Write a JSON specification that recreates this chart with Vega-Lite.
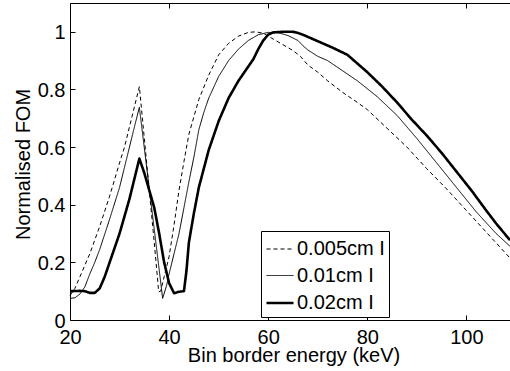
{
  "$schema": "https://vega.github.io/schema/vega-lite/v6.json",
  "width": 440,
  "height": 317,
  "autosize": {"type": "none"},
  "padding": {"left": 70, "top": 3, "right": 0, "bottom": 51},
  "background": "white",
  "config": {"view": {"stroke": null}, "font": "Liberation Sans"},
  "datasets": {
    "fom": [
      {"s": "0.005cm I", "x": 20, "y": 0.085}, {"s": "0.005cm I", "x": 21, "y": 0.11}, {"s": "0.005cm I", "x": 22, "y": 0.15},
      {"s": "0.005cm I", "x": 24, "y": 0.23}, {"s": "0.005cm I", "x": 26, "y": 0.325}, {"s": "0.005cm I", "x": 28, "y": 0.43},
      {"s": "0.005cm I", "x": 30, "y": 0.545}, {"s": "0.005cm I", "x": 31, "y": 0.6}, {"s": "0.005cm I", "x": 32, "y": 0.67},
      {"s": "0.005cm I", "x": 33, "y": 0.74}, {"s": "0.005cm I", "x": 34, "y": 0.81}, {"s": "0.005cm I", "x": 35, "y": 0.63},
      {"s": "0.005cm I", "x": 36, "y": 0.45}, {"s": "0.005cm I", "x": 37, "y": 0.27}, {"s": "0.005cm I", "x": 37.9, "y": 0.098},
      {"s": "0.005cm I", "x": 38.3, "y": 0.1}, {"s": "0.005cm I", "x": 39, "y": 0.15}, {"s": "0.005cm I", "x": 40, "y": 0.22},
      {"s": "0.005cm I", "x": 41, "y": 0.33}, {"s": "0.005cm I", "x": 42, "y": 0.45}, {"s": "0.005cm I", "x": 43, "y": 0.55},
      {"s": "0.005cm I", "x": 44, "y": 0.645}, {"s": "0.005cm I", "x": 46, "y": 0.765}, {"s": "0.005cm I", "x": 48, "y": 0.85},
      {"s": "0.005cm I", "x": 50, "y": 0.92}, {"s": "0.005cm I", "x": 52, "y": 0.96}, {"s": "0.005cm I", "x": 54, "y": 0.985},
      {"s": "0.005cm I", "x": 56, "y": 0.998}, {"s": "0.005cm I", "x": 57.5, "y": 1.0}, {"s": "0.005cm I", "x": 59, "y": 0.995},
      {"s": "0.005cm I", "x": 61, "y": 0.975}, {"s": "0.005cm I", "x": 63, "y": 0.955}, {"s": "0.005cm I", "x": 65, "y": 0.935},
      {"s": "0.005cm I", "x": 66.5, "y": 0.915}, {"s": "0.005cm I", "x": 68, "y": 0.885}, {"s": "0.005cm I", "x": 70, "y": 0.86},
      {"s": "0.005cm I", "x": 72, "y": 0.83}, {"s": "0.005cm I", "x": 75, "y": 0.79}, {"s": "0.005cm I", "x": 78, "y": 0.755},
      {"s": "0.005cm I", "x": 80, "y": 0.73}, {"s": "0.005cm I", "x": 84, "y": 0.665}, {"s": "0.005cm I", "x": 88, "y": 0.6},
      {"s": "0.005cm I", "x": 92, "y": 0.525}, {"s": "0.005cm I", "x": 96, "y": 0.455}, {"s": "0.005cm I", "x": 100, "y": 0.38},
      {"s": "0.005cm I", "x": 104, "y": 0.305}, {"s": "0.005cm I", "x": 108.8, "y": 0.215},

      {"s": "0.01cm I", "x": 20, "y": 0.075}, {"s": "0.01cm I", "x": 21, "y": 0.077}, {"s": "0.01cm I", "x": 22, "y": 0.09},
      {"s": "0.01cm I", "x": 23, "y": 0.115}, {"s": "0.01cm I", "x": 24, "y": 0.16}, {"s": "0.01cm I", "x": 25, "y": 0.2},
      {"s": "0.01cm I", "x": 26, "y": 0.245}, {"s": "0.01cm I", "x": 28, "y": 0.35}, {"s": "0.01cm I", "x": 30, "y": 0.46},
      {"s": "0.01cm I", "x": 32, "y": 0.6}, {"s": "0.01cm I", "x": 33, "y": 0.67}, {"s": "0.01cm I", "x": 34, "y": 0.738},
      {"s": "0.01cm I", "x": 35, "y": 0.597}, {"s": "0.01cm I", "x": 36, "y": 0.456}, {"s": "0.01cm I", "x": 37, "y": 0.315},
      {"s": "0.01cm I", "x": 38, "y": 0.174}, {"s": "0.01cm I", "x": 38.7, "y": 0.075}, {"s": "0.01cm I", "x": 39.5, "y": 0.12},
      {"s": "0.01cm I", "x": 40, "y": 0.16}, {"s": "0.01cm I", "x": 41, "y": 0.23}, {"s": "0.01cm I", "x": 42, "y": 0.3},
      {"s": "0.01cm I", "x": 43, "y": 0.39}, {"s": "0.01cm I", "x": 44, "y": 0.48}, {"s": "0.01cm I", "x": 45, "y": 0.565},
      {"s": "0.01cm I", "x": 46, "y": 0.66}, {"s": "0.01cm I", "x": 47, "y": 0.72}, {"s": "0.01cm I", "x": 48, "y": 0.77},
      {"s": "0.01cm I", "x": 50, "y": 0.845}, {"s": "0.01cm I", "x": 52, "y": 0.9}, {"s": "0.01cm I", "x": 54, "y": 0.94},
      {"s": "0.01cm I", "x": 56, "y": 0.97}, {"s": "0.01cm I", "x": 58, "y": 0.99}, {"s": "0.01cm I", "x": 60, "y": 0.998},
      {"s": "0.01cm I", "x": 62, "y": 0.997}, {"s": "0.01cm I", "x": 64, "y": 0.987}, {"s": "0.01cm I", "x": 66, "y": 0.97},
      {"s": "0.01cm I", "x": 67, "y": 0.952}, {"s": "0.01cm I", "x": 68, "y": 0.937}, {"s": "0.01cm I", "x": 70, "y": 0.915},
      {"s": "0.01cm I", "x": 72, "y": 0.9}, {"s": "0.01cm I", "x": 75, "y": 0.865}, {"s": "0.01cm I", "x": 78, "y": 0.83},
      {"s": "0.01cm I", "x": 82, "y": 0.775}, {"s": "0.01cm I", "x": 86, "y": 0.71}, {"s": "0.01cm I", "x": 90, "y": 0.63},
      {"s": "0.01cm I", "x": 94, "y": 0.545}, {"s": "0.01cm I", "x": 98, "y": 0.46}, {"s": "0.01cm I", "x": 102, "y": 0.375},
      {"s": "0.01cm I", "x": 106, "y": 0.3}, {"s": "0.01cm I", "x": 108.8, "y": 0.256},

      {"s": "0.02cm I", "x": 20, "y": 0.1}, {"s": "0.02cm I", "x": 22, "y": 0.101}, {"s": "0.02cm I", "x": 23, "y": 0.1},
      {"s": "0.02cm I", "x": 24, "y": 0.094}, {"s": "0.02cm I", "x": 25, "y": 0.094}, {"s": "0.02cm I", "x": 26, "y": 0.11},
      {"s": "0.02cm I", "x": 27, "y": 0.15}, {"s": "0.02cm I", "x": 28, "y": 0.2}, {"s": "0.02cm I", "x": 30, "y": 0.3},
      {"s": "0.02cm I", "x": 32, "y": 0.42}, {"s": "0.02cm I", "x": 33, "y": 0.49}, {"s": "0.02cm I", "x": 34, "y": 0.56},
      {"s": "0.02cm I", "x": 35, "y": 0.51}, {"s": "0.02cm I", "x": 36, "y": 0.45}, {"s": "0.02cm I", "x": 37, "y": 0.39},
      {"s": "0.02cm I", "x": 38, "y": 0.3}, {"s": "0.02cm I", "x": 39, "y": 0.2}, {"s": "0.02cm I", "x": 40, "y": 0.128},
      {"s": "0.02cm I", "x": 41, "y": 0.093}, {"s": "0.02cm I", "x": 42, "y": 0.098}, {"s": "0.02cm I", "x": 43, "y": 0.1},
      {"s": "0.02cm I", "x": 43.5, "y": 0.17}, {"s": "0.02cm I", "x": 44, "y": 0.27}, {"s": "0.02cm I", "x": 45, "y": 0.37},
      {"s": "0.02cm I", "x": 46, "y": 0.46}, {"s": "0.02cm I", "x": 48, "y": 0.59}, {"s": "0.02cm I", "x": 50, "y": 0.69},
      {"s": "0.02cm I", "x": 52, "y": 0.77}, {"s": "0.02cm I", "x": 54, "y": 0.83}, {"s": "0.02cm I", "x": 56, "y": 0.88},
      {"s": "0.02cm I", "x": 57, "y": 0.905}, {"s": "0.02cm I", "x": 58, "y": 0.94}, {"s": "0.02cm I", "x": 59, "y": 0.97},
      {"s": "0.02cm I", "x": 60, "y": 0.99}, {"s": "0.02cm I", "x": 61, "y": 0.998}, {"s": "0.02cm I", "x": 63, "y": 1.0},
      {"s": "0.02cm I", "x": 65, "y": 1.0}, {"s": "0.02cm I", "x": 66, "y": 0.996}, {"s": "0.02cm I", "x": 67, "y": 0.99},
      {"s": "0.02cm I", "x": 69, "y": 0.975}, {"s": "0.02cm I", "x": 71, "y": 0.96}, {"s": "0.02cm I", "x": 73, "y": 0.945},
      {"s": "0.02cm I", "x": 76, "y": 0.92}, {"s": "0.02cm I", "x": 78, "y": 0.89}, {"s": "0.02cm I", "x": 80, "y": 0.86},
      {"s": "0.02cm I", "x": 83, "y": 0.81}, {"s": "0.02cm I", "x": 86, "y": 0.755}, {"s": "0.02cm I", "x": 89, "y": 0.695},
      {"s": "0.02cm I", "x": 92, "y": 0.64}, {"s": "0.02cm I", "x": 95, "y": 0.58}, {"s": "0.02cm I", "x": 98, "y": 0.515},
      {"s": "0.02cm I", "x": 101, "y": 0.45}, {"s": "0.02cm I", "x": 104, "y": 0.38}, {"s": "0.02cm I", "x": 106, "y": 0.335},
      {"s": "0.02cm I", "x": 108.8, "y": 0.277}
    ]
  },
  "data": {"name": "fom"},
  "layer": [
    {
      "mark": {"type": "line", "strokeJoin": "round", "color": "black"},
      "encoding": {
        "x": {
          "field": "x", "type": "quantitative",
          "scale": {"domain": [20, 108.8], "nice": false, "zero": false},
          "axis": {
            "orient": "bottom", "values": [20, 40, 60, 80, 100], "grid": false,
            "title": "Bin border energy (keV)",
            "domainColor": "black", "tickColor": "black", "tickSize": -5, "labelPadding": 12,
            "labelFlush": false, "labelOverlap": false,
            "labelFont": "Liberation Sans", "labelFontSize": 20, "labelColor": "black",
            "titleFont": "Liberation Sans", "titleFontSize": 20, "titleFontWeight": "normal", "titleColor": "black",
            "titleX": 223.5, "titleY": 41.7, "titleBaseline": "alphabetic"
          }
        },
        "y": {
          "field": "y", "type": "quantitative",
          "scale": {"domain": [0, 1.1], "nice": false},
          "axis": {
            "values": [0, 0.2, 0.4, 0.6, 0.8, 1], "format": ".1~f", "grid": false,
            "title": "Normalised FOM",
            "domainColor": "black", "tickColor": "black", "tickSize": -5, "labelPadding": 10,
            "labelOverlap": false, "labelOffset": 1,
            "labelFont": "Liberation Sans", "labelFontSize": 20, "labelColor": "black",
            "titleFont": "Liberation Sans", "titleFontSize": 20, "titleFontWeight": "normal", "titleColor": "black",
            "titleX": -41, "titleY": 161, "titleBaseline": "alphabetic"
          }
        },
        "strokeDash": {
          "field": "s", "type": "nominal",
          "scale": {"domain": ["0.005cm I", "0.01cm I", "0.02cm I"], "range": [[4, 3], [1, 0], [1, 0]]},
          "legend": {
            "orient": "none", "legendX": 191, "legendY": 228, "title": null,
            "symbolType": "stroke", "symbolSize": 729, "symbolStrokeColor": "black",
            "labelFont": "Liberation Sans", "labelFontSize": 20, "labelColor": "black", "labelOffset": 2,
            "padding": 4, "rowPadding": 2.5, "strokeColor": "black", "fillColor": "white"
          }
        },
        "strokeWidth": {
          "field": "s", "type": "ordinal",
          "scale": {"type": "ordinal", "domain": ["0.005cm I", "0.01cm I", "0.02cm I"], "range": [1, 1, 2.6]},
          "legend": {
            "orient": "none", "legendX": 191, "legendY": 228, "title": null,
            "symbolType": "stroke", "symbolSize": 729, "symbolStrokeColor": "black",
            "labelFont": "Liberation Sans", "labelFontSize": 20, "labelColor": "black", "labelOffset": 2,
            "padding": 4, "rowPadding": 2.5, "strokeColor": "black", "fillColor": "white"
          }
        }
      }
    },
    {
      "mark": {"type": "point", "opacity": 0},
      "encoding": {
        "x": {
          "field": "x", "type": "quantitative",
          "scale": {"domain": [20, 108.8], "nice": false, "zero": false},
          "axis": {
            "orient": "top", "values": [20, 40, 60, 80, 100], "grid": false, "labels": false, "title": null,
            "domainColor": "black", "tickColor": "black", "tickSize": -5
          }
        }
      }
    }
  ],
  "resolve": {"axis": {"x": "independent"}}
}
